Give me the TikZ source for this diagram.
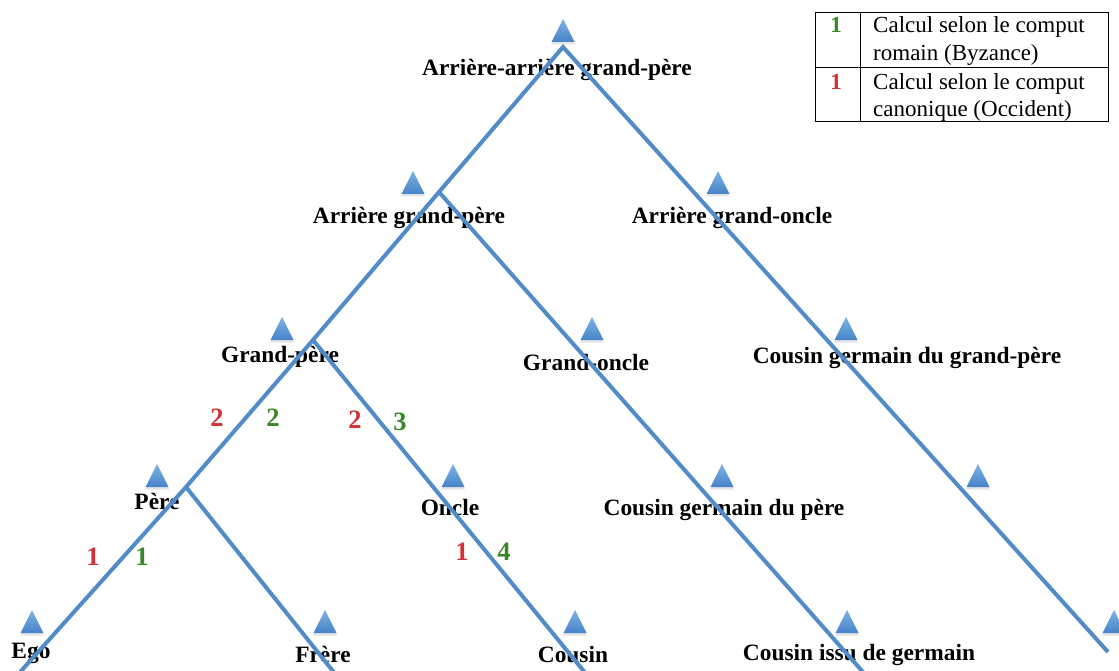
\documentclass[tikz,border=0pt]{standalone}
\usepackage{fontspec}
\setmainfont{Liberation Serif}
\definecolor{lineblue}{RGB}{82,140,200}
\definecolor{tritop}{RGB}{125,178,228}
\definecolor{tribot}{RGB}{70,132,200}
\definecolor{numred}{RGB}{212,50,55}
\definecolor{numgreen}{RGB}{58,135,40}
\tikzset{
  lbl/.style={font=\fontsize{23.4}{28}\selectfont\bfseries, anchor=base, inner sep=0pt},
  num/.style={font=\fontsize{26.5}{30}\selectfont\bfseries, inner sep=0pt},
  leg/.style={font=\fontsize{23}{27}\selectfont, anchor=base west, inner sep=0pt},
  legnum/.style={font=\fontsize{23}{27}\selectfont\bfseries, anchor=base, inner sep=0pt},
  branch/.style={draw=lineblue, line width=4pt, line join=miter},
  tri/.pic={
    \fill[black, opacity=0.10] (-12,2.5) -- (0,-21) -- (12,2.5) -- cycle;
    \shade[top color=tritop, bottom color=tribot] (-11.5,0) -- (0,-23) -- (11.5,0) -- cycle;
  }
}
\begin{document}
\begin{tikzpicture}[x=1pt,y=-1pt]
\useasboundingbox (0,0) rectangle (1119,671);
\clip (0,0) rectangle (1119,671);
\fill[white] (0,0) rectangle (1119,671);

% triangles
\pic at (563,42) {tri};
\pic at (413,194) {tri};
\pic at (718,194) {tri};
\pic at (282,340) {tri};
\pic at (592,340) {tri};
\pic at (846,340) {tri};
\pic at (157,487) {tri};
\pic at (453,487) {tri};
\pic at (722,487) {tri};
\pic at (978,487) {tri};
\pic at (32,633) {tri};
\pic at (325,633) {tri};
\pic at (575,633) {tri};
\pic at (847,633) {tri};
\pic at (1114,633) {tri};

% labels
\node[lbl] (aagp) at (557,76) {Arrière-arrière grand-père};
\node[lbl] (agp) at (409,223) {Arrière grand-père};
\node[lbl] (ago) at (732,223) {Arrière grand-oncle};
\node[lbl] (gp) at (280,362) {Grand-père};
\node[lbl] (go) at (586,370) {Grand-oncle};
\node[lbl] (cggp) at (907,363) {Cousin germain du grand-père};
\node[lbl] (pere) at (157,509) {Père};
\node[lbl] (oncle) at (450,515) {Oncle};
\node[lbl] (cgp) at (724,515) {Cousin germain du père};
\node[lbl] (ego) at (31,658) {Ego};
\node[lbl] (frere) at (323,662) {Frère};
\node[lbl] (cousin) at (573,662) {Cousin};
\node[lbl] (cig) at (859,660) {Cousin issu de germain};

% degree numbers
\node[num, text=numred] (r2a) at (217,418) {2};
\node[num, text=numgreen] (g2a) at (273,418) {2};
\node[num, text=numred] (r2b) at (355,420) {2};
\node[num, text=numgreen] (g3) at (400,422) {3};
\node[num, text=numred] (r1a) at (93,557) {1};
\node[num, text=numgreen] (g1a) at (142,557) {1};
\node[num, text=numred] (r1b) at (462,552) {1};
\node[num, text=numgreen] (g4) at (504,552) {4};

% lines
\coordinate (j0) at (563,47);
\coordinate (j1) at (439,192);
\coordinate (j2) at (313,340);
\coordinate (j3) at (186,487);
\coordinate (eL) at (13,680);
\coordinate (eR) at (1108,652);
\coordinate (e1) at (870,680);
\coordinate (e2) at (591,680);
\coordinate (e3) at (340,680);
\draw[branch] (eL) -- (j3) -- (j2) -- (j1) -- (j0) -- (eR);
\draw[branch] (j1) -- (e1);
\draw[branch] (j2) -- (e2);
\draw[branch] (j3) -- (e3);

% legend
\draw[line width=1pt] (815,13) rectangle (1108,122);
\draw[line width=1pt] (860,13) -- (860,122);
\draw[line width=1pt] (815,68) -- (1108,68);
\node[legnum, text=numgreen] (lg) at (836,33) {1};
\node[legnum, text=numred] (lr) at (836,90) {1};
\node[leg] (l1) at (873,33) {Calcul selon le comput};
\node[leg] (l2) at (873,61) {romain (Byzance)};
\node[leg] (l3) at (873,90) {Calcul selon le comput};
\node[leg] (l4) at (873,117) {canonique (Occident)};
\end{tikzpicture}
\end{document}
